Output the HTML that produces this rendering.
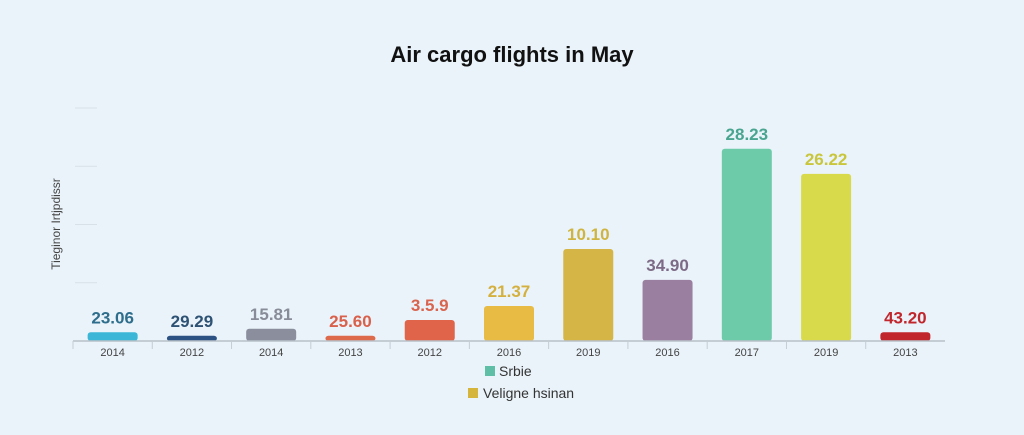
<!DOCTYPE html>
<html><head><meta charset="utf-8"><style>
body{margin:0;background:#eaf3fa;font-family:"Liberation Sans",sans-serif;}
svg{display:block}
</style></head><body>
<svg id="chart" width="1024" height="435">
<rect width="1024" height="435" fill="#eaf3fa"/>
<text x="512" y="62" text-anchor="middle" font-size="22" font-weight="bold" fill="#111">Air cargo flights in May</text>
<text transform="translate(60,224) rotate(-90)" text-anchor="middle" font-size="12" fill="#444">Tieginor Irtjpdissr</text>
<g id="grid"></g><g id="bars"></g><g id="xaxis"></g>
<g>
<rect x="485" y="366" width="10" height="10" fill="#5fbfa6"/>
<text x="499" y="376" font-size="14" fill="#333">Srbie</text>
<rect x="468" y="388" width="10" height="10" fill="#d6b53c"/>
<text x="483" y="398" font-size="14" fill="#333">Veligne hsinan</text>
</g>
</svg>
<script>
const categories=["2014","2012","2014","2013","2012","2016","2019","2016","2017","2019","2013"];
const values=[1.5,0.9,2.1,0.9,3.6,6.0,15.8,10.5,33.0,28.7,1.5];
const printed=["23.06","29.29","15.81","25.60","3.5.9","21.37","10.10","34.90","28.23","26.22","43.20"];
const yTicks=[0,10,20,30,40];
const colors=["#3bb6d6","#2c5283","#8b8e9c","#de6a4c","#e0644a","#e8bb45","#d5b546","#9a7fa0","#6ecba9","#d9d94c","#c0262c"];
const labelColors=["#2e6e8c","#2e5273","#888c98","#d9604a","#d9644f","#d4b03e","#cfb540","#7d6a86","#4aa590","#c9c63c","#c0262c"];
const ns="http://www.w3.org/2000/svg";
const X0=73,X1=945,Y0=341,YT=108,MAX=40;
const step=(X1-X0)/categories.length;
const xC=i=>X0+step*(i+0.5);
const yS=v=>Y0-(v/MAX)*(Y0-YT);
function mk(t,a,p){const e=document.createElementNS(ns,t);for(const k in a)e.setAttribute(k,a[k]);p.appendChild(e);return e;}
const grid=document.getElementById('grid');
yTicks.forEach((t,i)=>{if(t===0)return;
 const l=mk('line',{x1:75,x2:97,y1:yS(t),y2:yS(t),stroke:'#d8e0e8','stroke-width':1},grid);
 
 
});
const bars=document.getElementById('bars');
values.forEach((v,i)=>{
 const r=mk('rect',{x:xC(i)-25,y:yS(v),width:50,height:Y0-yS(v),rx:3,fill:colors[i]},bars);
 
 
 const t=mk('text',{x:xC(i),y:yS(v)-9,'text-anchor':'middle','font-size':17,'font-weight':'bold',fill:labelColors[i]},bars);
 t.textContent=printed[i];
 
 
});
const xa=document.getElementById('xaxis');
const ax=mk('line',{x1:X0,x2:X1,y1:Y0,y2:Y0,stroke:'#b8c0c8','stroke-width':1.5},xa);


categories.forEach((c,i)=>{
 const tk=mk('line',{x1:X0+step*i,x2:X0+step*i,y1:Y0,y2:Y0+8,stroke:'#c4ccd4'},xa);
 
 
 const t=mk('text',{x:xC(i),y:Y0+15,'text-anchor':'middle','font-size':11,fill:'#444'},xa);
 t.textContent=c;
 
 
});
</script>
</body></html>
